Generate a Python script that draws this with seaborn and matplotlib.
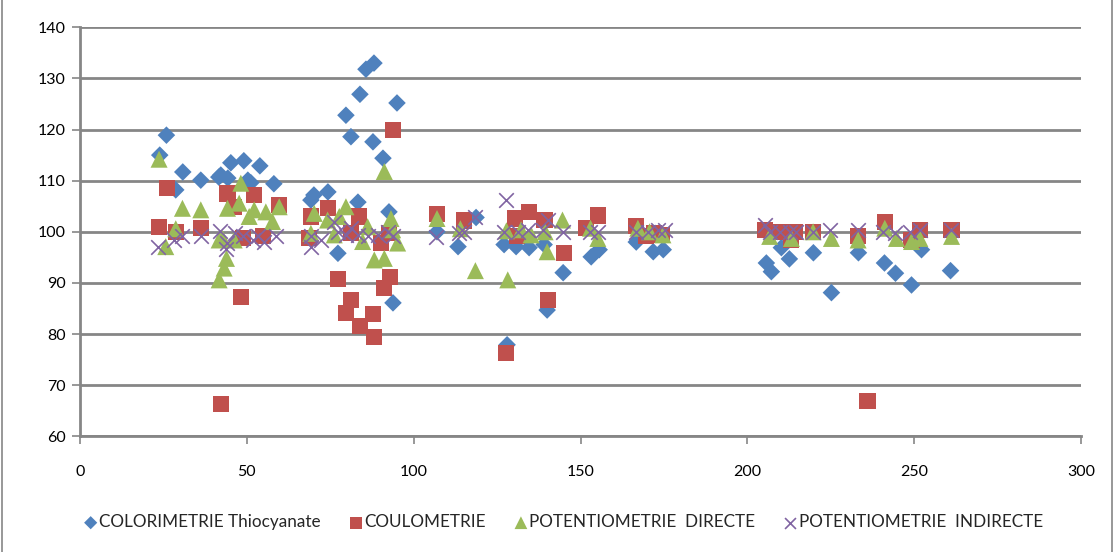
import matplotlib
matplotlib.use("Agg")
import matplotlib.pyplot as plt
import seaborn as sns
import pandas as pd
from matplotlib.patches import Rectangle

# --- series data -----------------------------------------------------------
colorimetrie_x = [23.9, 25.9, 28.7, 30.8, 36.2, 41.6, 44.3, 45.2, 49.1, 50.3, 51.2, 53.9,
                  58.1, 42.2, 69.2, 70.1, 74.3, 83.3, 92.6, 77.3, 88.1, 85.7, 83.9, 95.0,
                  79.7, 81.2, 87.8, 90.8, 93.8, 107.0, 113.3, 118.7, 127.1, 130.7, 134.6,
                  139.1, 144.8, 153.2, 155.6, 166.7, 171.8, 174.8, 128.0, 140.0, 205.7,
                  207.2, 210.2, 212.6, 219.8, 225.2, 233.3, 241.1, 244.4, 249.2, 252.2, 260.9]
colorimetrie_y = [115.0, 118.9, 108.2, 111.7, 110.1, 110.7, 110.5, 113.5, 113.9, 110.1, 109.6, 112.9,
                  109.4, 111.1, 106.2, 107.2, 107.8, 105.8, 103.9, 95.8, 133.0, 131.8, 126.9, 125.2,
                  122.8, 118.6, 117.6, 114.4, 86.1, 100.0, 97.1, 102.8, 97.5, 97.1, 96.9,
                  97.5, 92.0, 95.1, 96.5, 98.0, 96.1, 96.5, 77.9, 84.7, 93.9,
                  92.2, 96.9, 94.7, 95.9, 88.1, 95.9, 93.9, 91.9, 89.6, 96.5, 92.4]

coulometrie_x = [26.1, 23.6, 28.7, 36.2, 44.2, 52.1, 59.6, 46.1, 48.2, 48.8, 54.8, 42.2,
                 74.2, 69.2, 68.6, 83.6, 81.2, 90.2, 92.6, 93.7, 77.4, 92.9, 91.0, 81.2,
                 79.7, 87.7, 84.0, 88.0, 107.0, 115.0, 130.4, 134.6, 139.2, 131.0, 145.0,
                 140.2, 127.7, 155.2, 151.6, 166.7, 169.7, 172.0, 174.4, 205.2, 210.2,
                 213.2, 214.2, 219.7, 233.2, 241.2, 249.2, 251.7, 261.2, 236.0]
coulometrie_y = [108.5, 101.0, 100.0, 100.7, 107.5, 107.2, 105.3, 104.9, 87.3, 98.8, 99.2, 66.4,
                 104.6, 103.0, 98.8, 103.0, 99.7, 97.8, 99.7, 119.9, 90.8, 91.1, 89.0, 86.7,
                 84.2, 83.9, 81.5, 79.5, 103.5, 102.2, 102.6, 103.8, 102.3, 99.1, 95.8,
                 86.6, 76.3, 103.2, 100.7, 101.2, 99.1, 99.7, 99.4, 100.4, 100.0,
                 98.4, 100.0, 100.0, 99.1, 102.0, 98.4, 100.4, 100.4, 66.9]

pot_directe_x = [23.7, 30.7, 36.2, 28.7, 25.7, 41.7, 43.2, 43.9, 41.7, 48.2, 44.2, 47.7,
                 52.2, 55.7, 59.7, 57.7, 50.7, 42.7, 46.2, 91.2, 70.2, 74.2, 79.7, 77.7,
                 86.2, 93.2, 93.7, 88.2, 91.2, 69.2, 76.2, 84.7, 95.2, 107.0, 114.0,
                 118.5, 128.2, 127.8, 132.2, 135.2, 139.4, 140.0, 144.6, 153.0, 155.2,
                 167.2, 170.7, 174.7, 206.7, 213.2, 219.7, 225.2, 233.2, 241.2, 244.7,
                 249.2, 251.7, 261.2]
pot_directe_y = [114.2, 104.6, 104.3, 100.6, 97.1, 90.6, 92.9, 94.8, 98.4, 109.5, 104.6, 105.6,
                 104.3, 103.9, 104.9, 102.0, 103.0, 98.7, 98.4, 111.8, 103.6, 102.3, 104.9, 103.0,
                 101.0, 102.6, 100.4, 94.5, 94.8, 99.7, 99.4, 98.1, 97.8, 102.6, 100.6,
                 92.4, 90.6, 100.2, 100.4, 99.4, 100.0, 96.1, 102.3, 100.7, 98.7,
                 100.7, 100.0, 99.4, 99.1, 98.7, 100.0, 98.7, 98.4, 100.7, 98.7,
                 98.1, 98.7, 99.1]

pot_indirecte_x = [23.4, 28.2, 30.7, 36.2, 41.9, 44.2, 46.4, 43.7, 48.9, 51.7, 53.2, 55.2,
                   58.7, 69.2, 69.2, 72.2, 76.2, 77.2, 79.7, 81.2, 83.2, 86.2, 89.2, 92.2,
                   93.7, 106.8, 113.6, 115.2, 118.3, 127.8, 127.2, 131.2, 134.2, 138.7,
                   140.2, 144.9, 152.7, 155.2, 166.7, 170.2, 173.2, 175.2, 205.2, 206.7,
                   209.7, 212.7, 214.7, 219.7, 224.7, 233.2, 240.7, 244.2, 248.7, 251.7, 261.0]
pot_indirecte_y = [97.0, 98.4, 99.1, 99.2, 100.2, 97.8, 99.7, 96.6, 99.1, 98.4, 99.1, 98.1,
                   99.2, 99.1, 97.1, 98.4, 102.0, 100.0, 99.4, 100.7, 99.4, 99.1, 99.4, 100.0,
                   99.1, 98.9, 99.7, 100.0, 102.8, 106.2, 100.0, 100.0, 100.4, 100.4,
                   102.3, 100.0, 100.0, 100.0, 100.0, 100.0, 100.4, 100.4, 101.3, 100.0,
                   100.0, 100.0, 100.0, 100.0, 100.4, 100.4, 100.0, 99.7, 100.0, 100.4, 100.4]

series_names = ["COLORIMETRIE Thiocyanate", "COULOMETRIE",
                "POTENTIOMETRIE  DIRECTE", "POTENTIOMETRIE  INDIRECTE"]
x_ticks = [0, 50, 100, 150, 200, 250, 300]
y_ticks = [60, 70, 80, 90, 100, 110, 120, 130, 140]

# --- styling ---------------------------------------------------------------
sns.set_theme(style="white")
plt.rcParams["font.family"] = ["Lato", "DejaVu Sans"]

grid_grey = "#868686"
colors = ["#4F81BD", "#C0504D", "#9BBB59", "#8064A2"]

fig = plt.figure(figsize=(11.15, 5.52), dpi=100)
ax = fig.add_axes([80 / 1115, 1 - 436.3 / 552, (1081 - 80) / 1115, (436.3 - 27.3) / 552])

frames = [
    pd.DataFrame({"x": colorimetrie_x, "y": colorimetrie_y}),
    pd.DataFrame({"x": coulometrie_x, "y": coulometrie_y}),
    pd.DataFrame({"x": pot_directe_x, "y": pot_directe_y}),
    pd.DataFrame({"x": pot_indirecte_x, "y": pot_indirecte_y}),
]

sns.scatterplot(data=frames[0], x="x", y="y", marker="D", s=80, color=colors[0],
                edgecolor="none", ax=ax, label=series_names[0], zorder=3)
sns.scatterplot(data=frames[1], x="x", y="y", marker="s", s=135, color=colors[1],
                edgecolor="none", ax=ax, label=series_names[1], zorder=3)
sns.scatterplot(data=frames[2], x="x", y="y", marker="^", s=150, color=colors[2],
                edgecolor="none", ax=ax, label=series_names[2], zorder=3)
sns.scatterplot(data=frames[3], x="x", y="y", marker="x", s=110, color=colors[3],
                linewidth=1.2, ax=ax, label=series_names[3], zorder=3)

ax.set_xlim(0, 300)
ax.set_ylim(60, 140)
ax.set_xticks(x_ticks)
ax.set_yticks(y_ticks)
ax.set_xlabel("")
ax.set_ylabel("")

ax.yaxis.grid(True, color=grid_grey, linewidth=2.0)
ax.xaxis.grid(False)
ax.set_axisbelow(True)

for side in ["top", "right"]:
    ax.spines[side].set_visible(False)
for side in ["left", "bottom"]:
    ax.spines[side].set_color(grid_grey)
    ax.spines[side].set_linewidth(2.0)

ax.tick_params(axis="both", which="major", direction="out", length=5.5, width=1.2,
               color=grid_grey, labelsize=11.5, labelcolor="black")
ax.tick_params(axis="x", pad=15)
ax.tick_params(axis="y", pad=5)
ax.tick_params(left=True, bottom=True)

# legend below the plot
handles, labels = ax.get_legend_handles_labels()
ax.get_legend().remove()
leg = fig.legend(handles, labels, loc="center", bbox_to_anchor=(0.505, 0.054), ncol=4,
                 frameon=False, fontsize=12.3, handletextpad=0.05, columnspacing=1.6,
                 markerscale=0.75, handlelength=0.9)

# chart-area frame
fig.patches.append(Rectangle((0.002, -0.01), 0.995, 1.02, transform=fig.transFigure,
                             fill=False, edgecolor=grid_grey, linewidth=1.2))

fig.savefig("out.png", dpi=100)
